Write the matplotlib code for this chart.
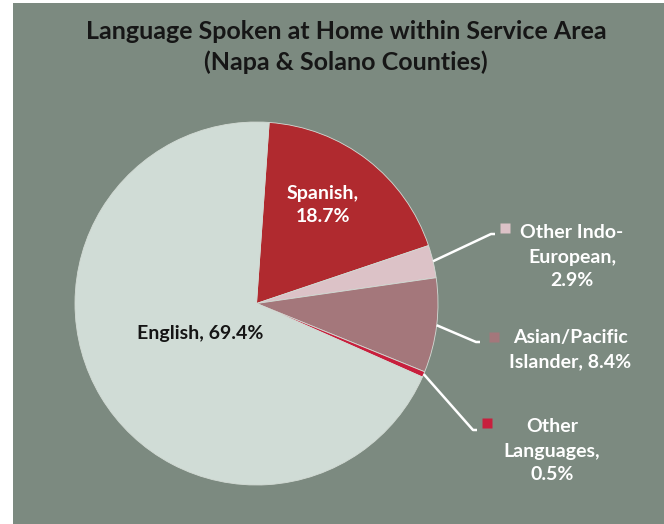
import numpy as np
import matplotlib.pyplot as plt
from matplotlib.patches import Rectangle

plt.rcParams['font.family'] = ['Lato', 'DejaVu Sans']

languages = ['Spanish', 'Other Indo-European', 'Asian/Pacific Islander', 'Other Languages', 'English']
shares = [18.7, 2.9, 8.4, 0.5, 69.4]
label_text = ['Spanish,\n18.7%', 'Other Indo-\nEuropean,\n2.9%', 'Asian/Pacific\nIslander, 8.4%',
              'Other\nLanguages,\n0.5%', 'English, 69.4%']
colors = ['#b02a2f', '#dcc2c7', '#a4777b', '#c81f3d', '#d0dcd6']

W, H = 664, 524
bg = '#7c8a80'

fig = plt.figure(figsize=(W / 100, H / 100), dpi=100, facecolor='white')
ax = fig.add_axes([0, 0, 1, 1])

cx, cy, r = 256.5, H - 303.5, 181.5
start = 86

wedges, _ = ax.pie(shares, colors=colors, startangle=start, counterclock=False,
                   center=(cx, cy), radius=r,
                   wedgeprops=dict(linewidth=0.6, edgecolor='#d3dbd5'))

ax.add_patch(Rectangle((13, 0), W - 13, H - 3, facecolor=bg, edgecolor='none', zorder=-5))
ax.set_xlim(0, W)
ax.set_ylim(0, H)
ax.set_aspect('equal')
ax.axis('off')

ax.text(346, H - 39, 'Language Spoken at Home within Service Area', ha='center', va='baseline',
        fontsize=18, fontweight='bold', color='#161616')
ax.text(346, H - 70, '(Napa & Solano Counties)', ha='center', va='baseline',
        fontsize=18, fontweight='bold', color='#161616')

# labels inside the pie
ax.text(323, H - 205, label_text[0], ha='center', va='center', fontsize=14,
        fontweight='bold', color='white', linespacing=1.5)
ax.text(200, H - 333, label_text[4], ha='center', va='center', fontsize=14,
        fontweight='bold', color='#151515')

# outside labels with leader lines and colour squares
outside = {
    1: dict(mk=(505, 228), txt=(572, 257), elbow=(491, 234)),
    2: dict(mk=(494, 337), txt=(570, 350), elbow=(476, 342)),
    3: dict(mk=(487, 423), txt=(552, 451), elbow=(473, 430)),
}

angles = np.cumsum([0] + shares)
for i, o in outside.items():
    mid = start - (angles[i] + angles[i + 1]) / 2 * 3.6
    ex = cx + r * np.cos(np.radians(mid))
    ey = cy + r * np.sin(np.radians(mid))
    bx, by = o['elbow']
    by = H - by
    ax.plot([ex, bx, bx + 4], [ey, by, by], color='white', lw=1.8, solid_capstyle='butt', zorder=3)
    mx, my = o['mk']
    ax.plot(mx, H - my, marker='s', ms=7, color=colors[i], mec='none', zorder=3)
    tx, ty = o['txt']
    ax.text(tx, H - ty, label_text[i], ha='center', va='center', fontsize=14,
            fontweight='bold', color='white', linespacing=1.5)

fig.savefig('out.png', dpi=100, facecolor='white')
